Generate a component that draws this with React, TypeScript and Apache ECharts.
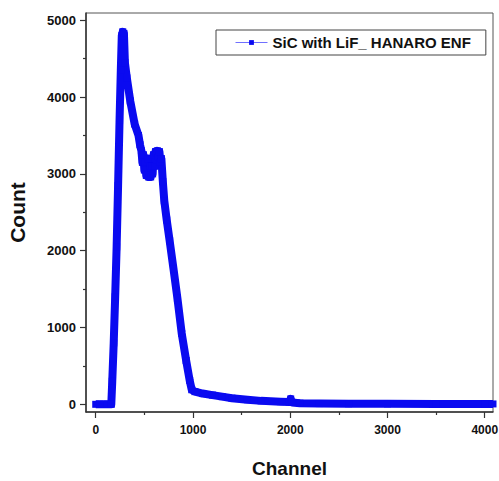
import React, { useEffect, useRef } from "react";
import * as echarts from "echarts";

const seriesName = "SiC with LiF_ HANARO ENF";
const channels = [
  0, 40, 80, 120, 160, 170, 185, 200, 215, 230, 245, 258, 268, 278, 290,
  300, 320, 355, 400, 440, 455, 470, 480, 490, 500, 510, 520, 535, 545,
  555, 565, 575, 585, 595, 605, 615, 625, 635, 645, 655, 665, 675, 690,
  705, 730, 760, 800, 840, 884, 930, 966, 987, 1020, 1100, 1200,
  1300, 1400, 1560, 1700, 1900, 1990, 2005, 2020, 2100, 2300, 2600, 3000,
  3500, 4000, 4085,
];
const counts = [
  0, 0, 0, 0, 0, 300, 800, 1400, 2050, 2850, 3700, 4350, 4800, 4850, 4830,
  4450, 4250, 3950, 3650, 3500, 3380, 3300, 3150, 3250, 3050, 3150, 2980, 3200, 2960,
  3100, 2960, 3100, 3000, 3250, 3100, 3290, 3180, 3300, 3220, 3290, 3150, 3200, 2900,
  2650, 2400, 2130, 1760, 1380, 924, 570, 312, 190, 165, 140, 120,
  100, 80, 60, 45, 35, 30, 70, 25, 15, 10, 8, 6,
  5, 5, 5,
];
const xMajorTicks = [0, 1000, 2000, 3000, 4000];
const xMinorTicks = [500, 1500, 2500, 3500];
const yMajorTicks = [0, 1000, 2000, 3000, 4000, 5000];
const yMinorTicks = [500, 1500, 2500, 3500, 4500];

const FONT = "'Liberation Sans', Arial, sans-serif";
const AXIS_COLOR = "#333";
const BLUE = "#0a0af0";

export default function App() {
  const ref = useRef<HTMLDivElement>(null);
  useEffect(() => {
    if (!ref.current) return;
    const chart = echarts.init(ref.current, undefined, { renderer: "svg" });
    const data = channels.map((c, i) => [c, counts[i]]);
    const xRange = { min: -100, max: 4085 };
    const yRange = { min: -100, max: 5095 };
    const plain = (v: number) => String(v);
    chart.setOption({
      animation: false,
      backgroundColor: "#fff",
      grid: {
        left: 86,
        right: 6,
        top: 13,
        bottom: 69,
        show: true,
        borderColor: "#555",
        borderWidth: 1,
        containLabel: false,
        outerBoundsMode: "none",
      },
      legend: {
        left: 216,
        top: 30,
        padding: [5, 15, 5, 19],
        borderColor: "#444",
        borderWidth: 1,
        backgroundColor: "#fff",
        itemWidth: 32,
        itemHeight: 6,
        lineStyle: { width: 1, color: "#7070ff" },
        itemStyle: { color: BLUE },
        textStyle: { fontFamily: FONT, fontSize: 15, fontWeight: "bold", color: "#111" },
        data: [seriesName],
      },
      xAxis: [
        {
          type: "value",
          ...xRange,
          position: "bottom",
          name: "Channel",
          nameLocation: "middle",
          nameGap: 47,
          nameTextStyle: { fontFamily: FONT, fontSize: 19, fontWeight: "bold", color: "#111" },
          axisLine: { show: true, onZero: false, lineStyle: { color: AXIS_COLOR, width: 1.5 } },
          axisTick: { show: true, inside: false, length: 6, customValues: xMajorTicks, lineStyle: { color: AXIS_COLOR, width: 1.2 } },
          axisLabel: { customValues: xMajorTicks, formatter: plain, fontFamily: FONT, fontSize: 12, fontWeight: "bold", color: "#111", margin: 12 },
          splitLine: { show: false },
        },
        {
          type: "value",
          ...xRange,
          position: "bottom",
          axisLine: { show: false, onZero: false },
          axisTick: { show: true, inside: false, length: 3, customValues: xMinorTicks, lineStyle: { color: AXIS_COLOR, width: 1.2 } },
          axisLabel: { show: false },
          splitLine: { show: false },
        },
      ],
      yAxis: [
        {
          type: "value",
          ...yRange,
          position: "left",
          name: "Count",
          nameLocation: "middle",
          nameGap: 58,
          nameRotate: 90,
          nameTextStyle: { fontFamily: FONT, fontSize: 21, fontWeight: "bold", color: "#111" },
          axisLine: { show: true, onZero: false, lineStyle: { color: AXIS_COLOR, width: 1.5 } },
          axisTick: { show: true, inside: false, length: 6, customValues: yMajorTicks, lineStyle: { color: AXIS_COLOR, width: 1.2 } },
          axisLabel: { customValues: yMajorTicks, formatter: plain, fontFamily: FONT, fontSize: 13, fontWeight: "bold", color: "#111", margin: 10 },
          splitLine: { show: false },
        },
        {
          type: "value",
          ...yRange,
          position: "left",
          axisLine: { show: false, onZero: false },
          axisTick: { show: true, inside: false, length: 3, customValues: yMinorTicks, lineStyle: { color: AXIS_COLOR, width: 1.2 } },
          axisLabel: { show: false },
          splitLine: { show: false },
        },
      ],
      series: [
        {
          name: seriesName,
          type: "line",
          xAxisIndex: 0,
          yAxisIndex: 0,
          data,
          symbol: "rect",
          symbolSize: 7,
          showSymbol: true,
          itemStyle: { color: BLUE },
          lineStyle: { color: BLUE, width: 8, join: "round" },
          clip: true,
        },
      ],
    });
    return () => chart.dispose();
  }, []);
  return (
    <div
      ref={ref}
      style={{ position: "absolute", left: 0, top: 0, width: 499, height: 481 }}
    />
  );
}
